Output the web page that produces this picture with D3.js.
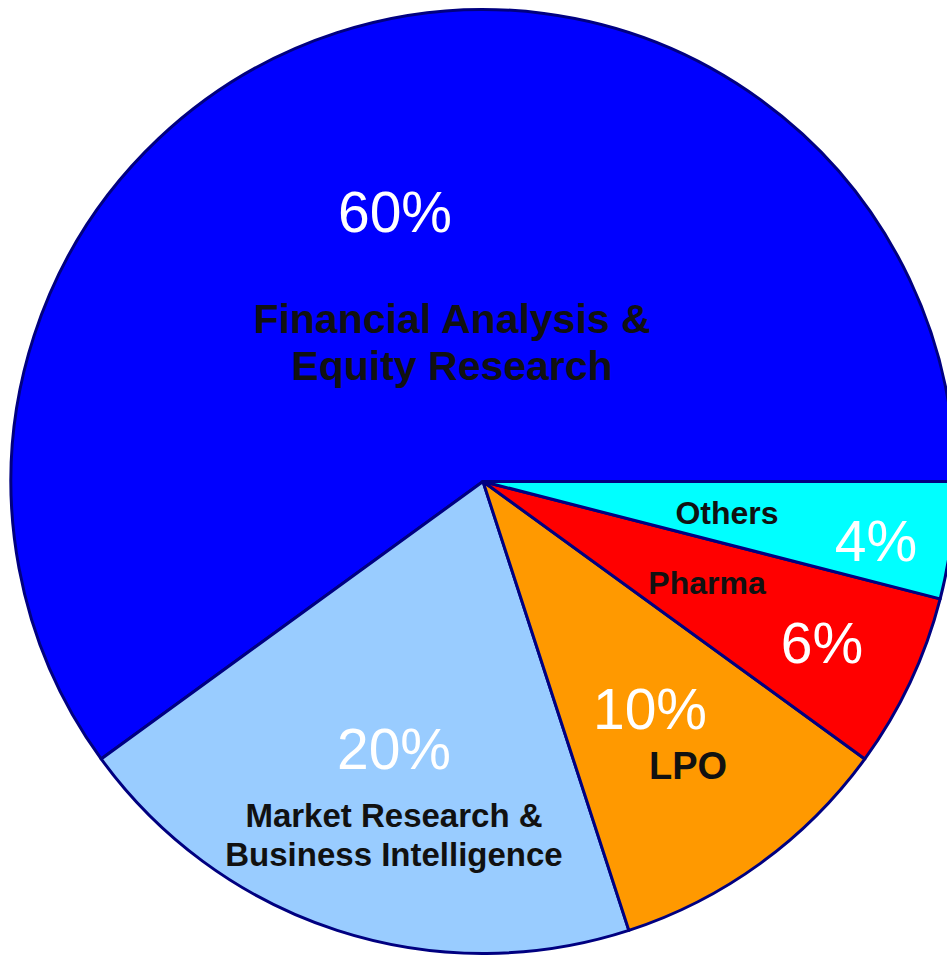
<!DOCTYPE html>
<html>
<head>
<meta charset="utf-8">
<script src="https://cdn.jsdelivr.net/npm/d3@7"></script>
<style>
  body { margin: 0; background: #fff; }
  text { font-family: "Liberation Sans", Arial, sans-serif; }
</style>
</head>
<body>
<div id="chart-area"></div>
<script>

// data
let categories = ["Financial Analysis & Equity Research", "Market Research & Business Intelligence", "LPO", "Pharma", "Others"];
let values = [60, 20, 10, 6, 4];
let nameLines = [["Financial Analysis &", "Equity Research"], ["Market Research &", "Business Intelligence"], ["LPO"], ["Pharma"], ["Others"]];
let colors = ["#0000ff", "#99ccff", "#ff9900", "#ff0000", "#00ffff"];

// label placement, relative to the pie centre
let pctPos = [[-88, -250], [-89, 287], [167, 247], [339, 181], [393, 79]];
let namePos = [[-31, -149], [-89, 345], [205, 297], [224, 112], [244, 42]];
let nameSize = [41, 33, 38, 32, 32];
let lineGap = [47, 39, 0, 0, 0];

let width = 947, height = 955;
let cx = 483, cy = 481.5, radius = 472;

let svg = d3.select("#chart-area").append("svg")
    .attr("width", width)
    .attr("height", height)
  .append("g")
    .attr("transform", "translate(" + cx + "," + cy + ")");

let data = categories.map(function(c, i) {
  return {name: c, value: values[i], color: colors[i], lines: nameLines[i], i: i};
});

// starts at 3 o'clock and runs counterclockwise
let pie = d3.pie()
  .sort(null)
  .value(d => d.value)
  .startAngle(Math.PI / 2)
  .endAngle(Math.PI / 2 - 2 * Math.PI);

let arc = d3.arc()
  .innerRadius(0)
  .outerRadius(radius);

svg.selectAll("path.slice")
  .data(pie(data))
  .enter()
  .append("path")
  .attr("class", "slice")
  .attr("d", arc)
  .attr("fill", d => d.data.color)
  .attr("stroke", "#000080")
  .attr("stroke-width", 3)
  .attr("stroke-linejoin", "round");

// percent labels
svg.selectAll("text.pct")
  .data(data)
  .enter()
  .append("text")
  .attr("class", "pct")
  .attr("x", d => pctPos[d.i][0])
  .attr("y", d => pctPos[d.i][1])
  .attr("text-anchor", "middle")
  .attr("fill", "#fff")
  .attr("font-size", 57)
  .text(d => d.value + "%");

// category names
let names = svg.selectAll("text.name")
  .data(data)
  .enter()
  .append("text")
  .attr("class", "name")
  .attr("text-anchor", "middle")
  .attr("fill", "#111")
  .attr("font-weight", "bold")
  .attr("font-size", d => nameSize[d.i]);

names.selectAll("tspan")
  .data(d => d.lines.map((l, k) => ({line: l, k: k, i: d.i})))
  .enter()
  .append("tspan")
  .attr("x", d => namePos[d.i][0])
  .attr("y", d => namePos[d.i][1] + d.k * lineGap[d.i])
  .text(d => d.line);

</script>
</body>
</html>
